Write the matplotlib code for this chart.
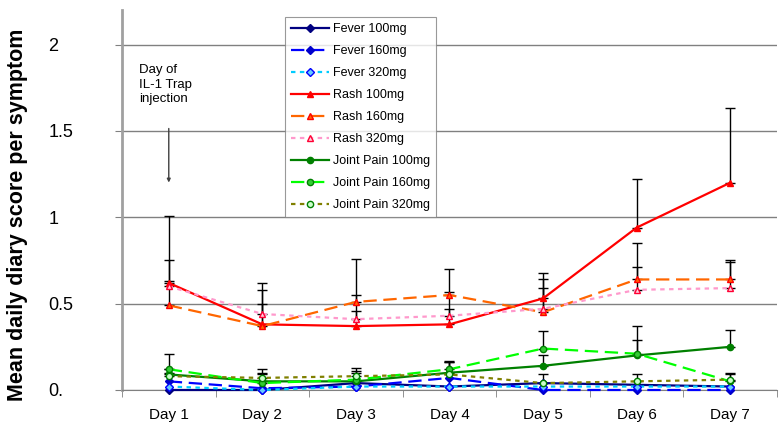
import numpy as np
from matplotlib import pyplot as plt

days = ['Day 1', 'Day 2', 'Day 3', 'Day 4', 'Day 5', 'Day 6', 'Day 7']

fever_100 = [0.00, 0.00, 0.04, 0.02, 0.04, 0.03, 0.02]
fever_160 = [0.05, 0.01, 0.02, 0.07, 0.00, 0.00, 0.00]
fever_320 = [0.02, 0.00, 0.02, 0.02, 0.02, 0.02, 0.02]
rash_100 = [0.62, 0.38, 0.37, 0.38, 0.53, 0.94, 1.20]
rash_160 = [0.49, 0.37, 0.51, 0.55, 0.45, 0.64, 0.64]
rash_320 = [0.60, 0.44, 0.41, 0.43, 0.47, 0.58, 0.59]
joint_100 = [0.09, 0.05, 0.05, 0.10, 0.14, 0.20, 0.25]
joint_160 = [0.12, 0.04, 0.06, 0.12, 0.24, 0.21, 0.05]
joint_320 = [0.08, 0.07, 0.08, 0.09, 0.04, 0.05, 0.06]

# upper error bars (only the ones visible on the chart)
rash_100_err = [0.39, 0.24, 0.39, 0.32, 0.15, 0.28, 0.43]
rash_160_err = [0.26, 0.21, 0.04, 0.02, 0.19, 0.21, 0.11]
rash_320_err = [0.03, 0.06, 0.05, 0.04, 0.12, 0.13, 0.15]
joint_100_err = [0.03, 0.04, 0.05, 0.06, 0.06, 0.09, 0.10]
joint_160_err = [0.09, 0.08, 0.07, 0.05, 0.10, 0.16, 0.04]
joint_320_err = [0.02, 0.03, 0.03, 0.07, 0.05, 0.04, 0.04]

plt.rcParams['font.family'] = ['Liberation Sans', 'DejaVu Sans']

fig = plt.figure(figsize=(7.84, 4.28), dpi=100)
ax = fig.add_axes([0.1556, 0.0888, 0.991 - 0.1556, 0.9766 - 0.0888])
x = np.arange(1, len(days) + 1)

series = [
    ('Fever 100mg', fever_100, None, dict(color='#000080', ls='-', marker='D', mfc='#000080', mec='#000080', ms=4)),
    ('Fever 160mg', fever_160, None, dict(color='#0000FF', ls=(0, (6, 3)), marker='D', mfc='#0000CC', mec='#0000CC', ms=4)),
    ('Fever 320mg', fever_320, None, dict(color='#00CCFF', ls=(0, (2, 2)), marker='D', mfc='#66CCFF', mec='#0000FF', ms=4)),
    ('Rash 100mg', rash_100, rash_100_err, dict(color='#FF0000', ls='-', marker='^', mfc='#FF0000', mec='#FF0000', ms=5)),
    ('Rash 160mg', rash_160, rash_160_err, dict(color='#FF6600', ls=(0, (6, 3)), marker='^', mfc='#FF6600', mec='#FF0000', ms=5)),
    ('Rash 320mg', rash_320, rash_320_err, dict(color='#FF99CC', ls=(0, (2, 2)), marker='^', mfc='#FFCCDD', mec='#FF0033', ms=5)),
    ('Joint Pain 100mg', joint_100, joint_100_err, dict(color='#008000', ls='-', marker='o', mfc='#008000', mec='#008000', ms=4.5)),
    ('Joint Pain 160mg', joint_160, joint_160_err, dict(color='#00FF00', ls=(0, (6, 3)), marker='o', mfc='#33CC33', mec='#008000', ms=4.5)),
    ('Joint Pain 320mg', joint_320, joint_320_err, dict(color='#808000', ls=(0, (2, 2)), marker='o', mfc='#CCFFCC', mec='#008000', ms=4.5)),
]

# error bars first so the lines sit on top
for name, vals, err, st in series:
    if err is None:
        continue
    ax.errorbar(x, vals, yerr=[np.zeros(len(err)), err], fmt='none', ecolor='black',
                elinewidth=1, capsize=3.5, capthick=1, zorder=2)

for name, vals, err, st in series:
    ax.plot(x, vals, label=name, lw=1.6, clip_on=False, zorder=3, **st)

ax.set_xlim(0.5, 7.5)
ax.set_ylim(0, 2.2)
ax.set_yticks([0, 0.5, 1, 1.5, 2])
ax.set_yticklabels(['0.', '0.5', '1', '1.5', '2'], fontsize=13)
for lab in ax.get_yticklabels():
    lab.set_horizontalalignment('left')
ax.set_xticks(x)
ax.set_xticklabels(days, fontsize=11)
ax.set_xticks(np.arange(0.5, 8, 1), minor=True)
ax.tick_params(axis='x', which='major', length=0, pad=13)
ax.tick_params(axis='x', which='minor', length=5, color='#808080', direction='out')
ax.tick_params(axis='y', length=5, color='#808080', direction='out', pad=48)
ax.yaxis.grid(True, color='#808080', lw=1)
ax.set_axisbelow(True)

for s in ['top', 'right']:
    ax.spines[s].set_visible(False)
ax.spines['left'].set_color('#a0a0a0')
ax.spines['left'].set_linewidth(2)
ax.spines['bottom'].set_color('#808080')

ax.set_ylabel('Mean daily diary score per symptom', fontsize=15.5, fontweight='bold')
ax.yaxis.set_label_coords(-0.143, 0.46)

ax.annotate('', xy=(1, 1.185), xytext=(1, 1.53),
            arrowprops=dict(arrowstyle='-|>', color='#404040', lw=1, mutation_scale=5))
ax.text(0.68, 1.885, 'Day of\nIL-1 Trap\ninjection', fontsize=9.5, va='top', ha='left', linespacing=1.25)

leg = ax.legend(loc='upper left', bbox_to_anchor=(0.249, 0.982), fontsize=9,
                frameon=True, fancybox=False, edgecolor='#808080', handlelength=3.0,
                labelspacing=0.8, borderpad=0.5, handletextpad=0.3, borderaxespad=0)
leg.get_frame().set_linewidth(0.8)

plt.savefig('out.png', dpi=100)
